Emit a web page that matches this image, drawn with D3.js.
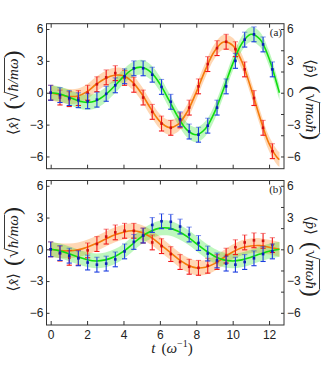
<!DOCTYPE html>
<html lang="en">
<head>
<meta charset="UTF-8">
<title>Position and momentum expectation values</title>
<script src="https://cdn.jsdelivr.net/npm/d3@7"></script>
<style>
  body { margin: 0; background: #fff; }
  svg { display: block; font-family: "Liberation Serif", "DejaVu Serif", serif; }
  .tick text { font-size: 12px; fill: #222; }
  .tick line { stroke: #333; }
  .lbl { font-size: 15px; fill: #222; }
</style>
</head>
<body>
<div id="chart"></div>
<script>
const curveT = [0, 0.5, 1, 1.5, 2, 2.5, 3, 3.5, 4, 4.5, 5, 5.5, 6, 6.5, 7, 7.5, 8, 8.5, 9, 9.5, 10, 10.5, 11, 11.5, 12, 12.5, 12.57];

// panel (a)
const xCurveA = [0, -0.12, -0.42, -0.75, -0.91, -0.75, -0.21, 0.61, 1.51, 2.2, 2.4, 1.94, 0.84, -0.7, -2.3, -3.52, -3.96, -3.39, -1.85, 0.36, 2.72, 4.62, 5.5, 5.03, 3.22, 0.41, 0];
const pCurveA = [0, -0.2, -0.35, -0.3, 0.1, 0.8, 1.35, 1.65, 1.6, 1.0, -0.1, -1.5, -2.7, -3.27, -2.97, -1.8, 0.05, 2.15, 3.9, 4.77, 4.47, 2.94, 0.45, -2.35, -4.8, -6.2, -6.28];
// panel (b)
const xCurveB = [0, -0.15, -0.42, -0.72, -0.98, -1.1, -1.0, -0.7, -0.2, 0.5, 1.2, 1.7, 2.0, 2.0, 1.7, 1.2, 0.55, -0.1, -0.65, -1.0, -1.1, -1.0, -0.75, -0.45, -0.18, -0.02, 0];
const pCurveB = [0, -0.12, -0.15, -0.05, 0.2, 0.55, 0.95, 1.35, 1.62, 1.75, 1.6, 1.15, 0.5, -0.2, -0.9, -1.45, -1.75, -1.7, -1.35, -0.8, -0.25, 0.15, 0.32, 0.35, 0.2, 0.02, 0];

// measured points
const pointT = [0, 0.51, 1.02, 1.52, 2.03, 2.54, 3.05, 3.55, 4.06, 4.57, 5.08, 5.58, 6.09, 6.6, 7.11, 7.61, 8.12, 8.63, 9.14, 9.64, 10.15, 10.66, 11.17, 11.67, 12.18];
const xPointsA = [0, -0.22, -0.5, -0.7, -0.8, -0.65, -0.1, 0.7, 1.55, 2.3, 2.3, 1.7, 0.55, -0.85, -2.5, -3.65, -3.95, -3.1, -1.4, 0.6, 3.0, 5.0, 5.5, 4.55, 2.2];
const pPointsA = [0, -0.45, -0.6, -0.5, 0.0, 0.8, 1.45, 1.85, 1.4, 0.75, -0.45, -1.8, -2.9, -3.3, -2.6, -1.4, 0.6, 2.7, 4.2, 4.8, 4.1, 2.2, -0.5, -3.3, -5.5];
const xPointsB = [0, -0.35, -0.6, -0.85, -1.25, -1.45, -1.35, -0.95, -0.2, 0.7, 1.3, 2.3, 2.65, 2.6, 2.15, 1.4, 0.6, -0.4, -1.05, -1.35, -1.45, -1.2, -0.85, -0.45, -0.2];
const pPointsB = [0, -0.4, -0.8, -0.8, -0.1, 0.5, 1.2, 1.6, 1.75, 1.75, 1.3, 0.65, 0.3, -0.45, -1.2, -1.65, -1.75, -1.55, -1.2, -0.6, 0.2, 0.65, 0.85, 0.8, 0.4];

const errBar = 0.7;     // half length of the error bars
const bandHalf = 0.7;   // half width of the shaded bands

const xTicks = [0, 2, 4, 6, 8, 10, 12];
const yTicks = [-6, -3, 0, 3, 6];
const yRightTicks = [-6, -4, -2, 0, 2, 4, 6];

const W = 331, H = 382;
const left = 46.5, right = 284;

const svg = d3.select("#chart").append("svg")
  .attr("width", W)
  .attr("height", H);

svg.append("rect").attr("width", W).attr("height", H).attr("fill", "#fff");

const x = d3.scaleLinear().domain([-0.23, 12.82]).range([left, right]);

function panel(top, bottom, xc, pc, xp, pp, tag, showX) {
  const y = d3.scaleLinear().domain([-7.15, 6.5]).range([bottom, top]);
  const g = svg.append("g");

  const curve = d3.curveCatmullRom.alpha(0.5);
  const area = arr => d3.area()
    .x((d, i) => x(curveT[i]))
    .y0(d => y(d - bandHalf))
    .y1(d => y(d + bandHalf))
    .curve(curve)(arr);
  const line = arr => d3.line()
    .x((d, i) => x(curveT[i]))
    .y(d => y(d))
    .curve(curve)(arr);

  // bands
  g.append("path").attr("d", area(pc)).attr("fill", "rgba(255,140,40,0.35)");
  g.append("path").attr("d", area(xc)).attr("fill", "rgba(40,230,40,0.3)");
  g.append("path").attr("d", line(pc)).attr("fill", "none").attr("stroke", "#f47a0a").attr("stroke-width", 1.6);
  g.append("path").attr("d", line(xc)).attr("fill", "none").attr("stroke", "#10dd10").attr("stroke-width", 1.6);

  function bars(vals, col, dot) {
    const b = g.append("g").selectAll("g").data(vals).enter().append("g");
    b.append("line")
      .attr("x1", (d, i) => x(pointT[i])).attr("x2", (d, i) => x(pointT[i]))
      .attr("y1", d => y(d - errBar)).attr("y2", d => y(d + errBar))
      .attr("stroke", col).attr("stroke-width", 1.1);
    b.append("line")
      .attr("x1", (d, i) => x(pointT[i]) - 2.6).attr("x2", (d, i) => x(pointT[i]) + 2.6)
      .attr("y1", d => y(d - errBar)).attr("y2", d => y(d - errBar))
      .attr("stroke", col).attr("stroke-width", 1.1);
    b.append("line")
      .attr("x1", (d, i) => x(pointT[i]) - 2.6).attr("x2", (d, i) => x(pointT[i]) + 2.6)
      .attr("y1", d => y(d + errBar)).attr("y2", d => y(d + errBar))
      .attr("stroke", col).attr("stroke-width", 1.1).attr("stroke-opacity", 0.5);
    b.append("rect")
      .attr("x", (d, i) => x(pointT[i]) - 1.3).attr("y", d => y(d) - 1.3)
      .attr("width", 2.6).attr("height", 2.6)
      .attr("fill", dot);
  }
  bars(pp, "#f21818", "#d01010");
  bars(xp, "#1a3ce0", "#0a1eb8");

  // frame
  g.append("rect")
    .attr("x", left).attr("y", top)
    .attr("width", right - left).attr("height", bottom - top)
    .attr("fill", "none").attr("stroke", "#333").attr("stroke-width", 1);

  // axes, ticks pointing inward
  const ax = g.append("g");
  ax.append("g").attr("transform", `translate(${left},0)`)
    .call(d3.axisLeft(y).tickValues(yTicks).tickSize(-3).tickPadding(3));
  ax.append("g").attr("transform", `translate(${right},0)`)
    .call(d3.axisRight(y).tickValues(yRightTicks).tickSize(-3).tickFormat(""));
  ax.append("g").attr("transform", `translate(${right},0)`)
    .call(d3.axisRight(y).tickValues(yTicks).tickSize(0).tickPadding(3));
  ax.append("g").attr("transform", `translate(0,${bottom})`)
    .call(d3.axisBottom(x).tickValues(xTicks).tickSize(-4).tickPadding(5)
      .tickFormat(showX ? d3.format("d") : ""));
  ax.append("g").attr("transform", `translate(0,${top})`)
    .call(d3.axisTop(x).tickValues(xTicks).tickSize(-4).tickFormat(""));
  ax.selectAll(".domain").remove();

  g.append("text").attr("class", "lbl")
    .attr("x", right - 2).attr("y", top + 12)
    .attr("text-anchor", "end").style("font-size", "11px")
    .text(tag);

  // y labels
  const mid = (top + bottom) / 2;
  yLabel(g, 13, mid, -90, "x", "ħ/mω");
  yLabel(g, 311, mid, 90, "p", "mωħ");
}

function yLabel(g, cx, cy, rot, v, rad) {
  const L = g.append("g").attr("transform", `translate(${cx},${cy}) rotate(${rot})`);
  const t = L.append("text").attr("class", "lbl").attr("y", 5);
  t.append("tspan").text("⟨");
  t.append("tspan").style("font-style", "italic").text(v + "\u0302");
  t.append("tspan").text("⟩");
  t.append("tspan").attr("dx", 7).style("font-size", "24px").attr("dy", 2).text("(");
  t.append("tspan").attr("dy", -2).style("font-size", "18px").text("√");
  t.append("tspan").style("font-style", "italic").text(rad);
  t.append("tspan").style("font-size", "24px").attr("dy", 2).text(")");
  const w = t.node().getComputedTextLength();
  t.attr("x", -w / 2);
  // overline of the root
  const n = t.node();
  const total = n.getNumberOfChars();
  const s = n.getStartPositionOfChar(total - rad.length - 1);
  const e = n.getEndPositionOfChar(total - 2);
  L.append("line").attr("x1", s.x - 0.5).attr("x2", e.x + 0.5)
    .attr("y1", -8.5).attr("y2", -8.5)
    .attr("stroke", "#222").attr("stroke-width", 0.9);
}

panel(23.7, 168.7, xCurveA, pCurveA, xPointsA, pPointsA, "(a)", false);
panel(180.5, 325, xCurveB, pCurveB, xPointsB, pPointsB, "(b)", true);

// x label
const xl = svg.append("text").attr("class", "lbl")
  .attr("x", 172).attr("y", 353).attr("text-anchor", "middle").style("font-size", "15px");
xl.append("tspan").style("font-style", "italic").text("t");
xl.append("tspan").attr("dx", 6).text("(");
xl.append("tspan").style("font-style", "italic").text("ω");
xl.append("tspan").attr("dy", -6).style("font-size", "10px").text("−1");
xl.append("tspan").attr("dy", 6).text(")");
</script>
</body>
</html>
